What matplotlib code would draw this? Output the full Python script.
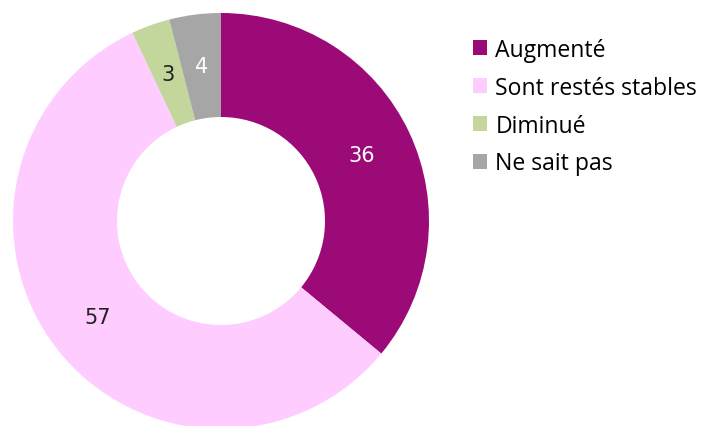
import matplotlib
matplotlib.use("Agg")
import matplotlib.pyplot as plt
from matplotlib.patches import Patch
import numpy as np

categories = ["Augmenté", "Sont restés stables", "Diminué", "Ne sait pas"]
values = [36, 57, 3, 4]
colors = ["#9C0A78", "#FFCCFF", "#C3D69B", "#A6A6A6"]
label_colors = ["white", "#222222", "#222222", "white"]

fig = plt.figure(figsize=(7.02, 4.27), dpi=100)
W, H = 702, 427
cx, cy, r = 221, 222, 208
ax = fig.add_axes([(cx - r) / W, (H - cy - r) / H, 2 * r / W, 2 * r / H])
wedges, _ = ax.pie(values, colors=colors, startangle=90, counterclock=False,
                   radius=1.0, wedgeprops=dict(width=0.5, linewidth=0))
for w, v, c in zip(wedges, values, label_colors):
    ang = np.deg2rad((w.theta1 + w.theta2) / 2)
    ax.text(0.75 * np.cos(ang), 0.75 * np.sin(ang), str(v), ha="center", va="center",
            fontsize=15, color=c, family="DejaVu Sans")
ax.set_xlim(-1, 1)
ax.set_ylim(-1, 1)
ax.set_aspect("equal")
ax.axis("off")

handles = [Patch(facecolor=c, edgecolor="none") for c in colors]
fig.legend(handles, categories, loc="upper left", bbox_to_anchor=(473 / W, 1 - 39 / H),
           frameon=False, prop={"family": "Open Sans", "size": 16.6},
           handlelength=0.62, handleheight=0.62, handletextpad=0.35, labelspacing=0.6,
           borderaxespad=0, borderpad=0)

fig.savefig("out.png", dpi=100)
